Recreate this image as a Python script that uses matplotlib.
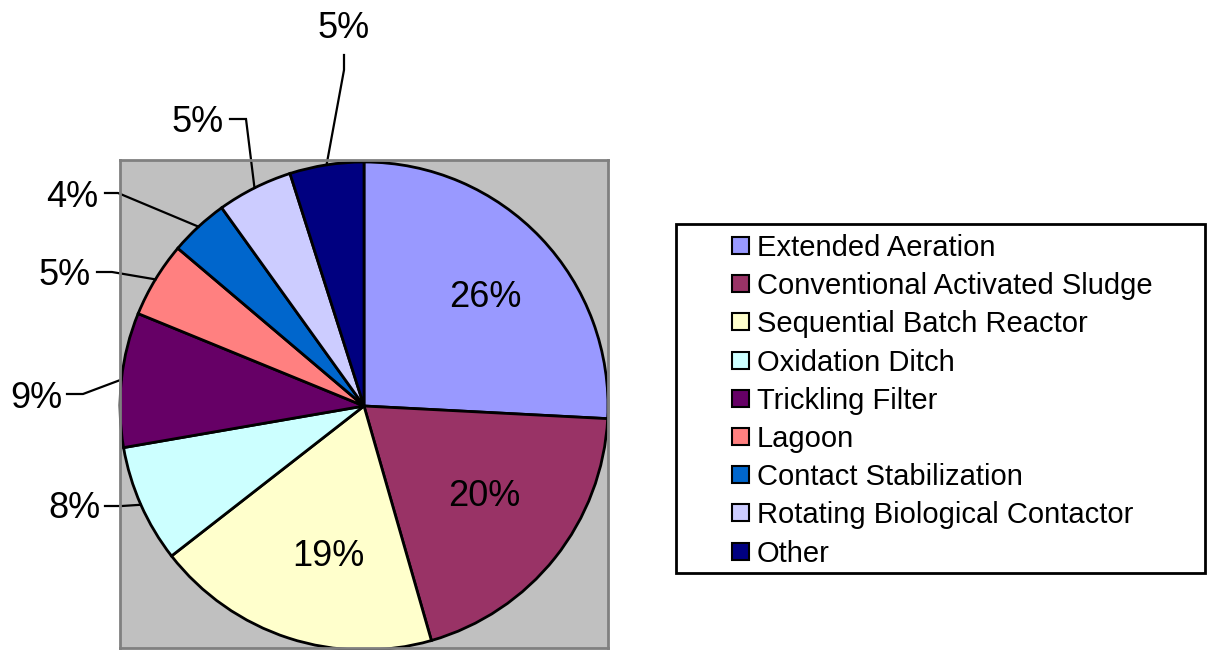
import numpy as np
import matplotlib
matplotlib.use("Agg")
import matplotlib.pyplot as plt
from matplotlib.patches import Rectangle

plt.rcParams['font.family'] = ['Liberation Sans', 'DejaVu Sans']

categories = ["Extended Aeration", "Conventional Activated Sludge", "Sequential Batch Reactor",
              "Oxidation Ditch", "Trickling Filter", "Lagoon", "Contact Stabilization",
              "Rotating Biological Contactor", "Other"]
values = [25.8, 19.7, 18.9, 7.8, 8.9, 5.0, 3.9, 5.0, 4.9]
colors = ["#9999FF", "#993366", "#FFFFCC", "#CCFFFF", "#660066", "#FF8080",
          "#0066CC", "#CCCCFF", "#000080"]
pct_labels = [f"{round(v)}%" for v in values]

W, H = 1212, 650
fig = plt.figure(figsize=(W / 100, H / 100), dpi=100)

# plot area (pixel coords)
left, top, right, bottom = 120, 160, 608, 648
ax = fig.add_axes([left / W, 1 - bottom / H, (right - left) / W, (bottom - top) / H])
cx, cy, R = 364, 406, 244
wedges, _ = ax.pie(values, colors=colors, startangle=90, counterclock=False,
                   radius=R, center=(0, 0), frame=True,
                   wedgeprops=dict(edgecolor="black", linewidth=2.0))
for w in wedges:
    w.set_clip_on(False)
ax.set_aspect("auto")
ax.set_xlim(left - cx, right - cx)
ax.set_ylim(cy - bottom, cy - top)
ax.set_facecolor("#C0C0C0")
ax.set_xticks([]); ax.set_yticks([])
for s in ax.spines.values():
    s.set_color("#808080"); s.set_linewidth(2)

def px(x, y):
    return x - cx, cy - y

fs = 26
em = fs * 100 / 72
def label(x, y, s):
    # (x, y) = pixel centre of the digits
    ax.text(x - cx, cy - (y + 0.358 * em), s, ha="center", va="baseline",
            fontsize=fs, clip_on=False)

# inside labels: index -> digit centre px
inside = {0: (485, 294.5), 1: (484.5, 493.5), 2: (328, 553)}
for i, (x, y) in inside.items():
    label(x, y, pct_labels[i])

# outside labels: index -> (label center px, leader start px, bend px)
outside = {
    8: ((344, 25), (344, 55), (344, 70)),
    7: ((197.5, 119.5), (230, 119), (246, 119)),
    6: ((72.5, 194), (105, 193), (118, 193)),
    5: ((64.5, 272), (97, 272), (112, 272)),
    4: ((36, 395), (67, 394), (83, 394)),
    3: ((74, 505), (105, 506), (122, 506)),
}
for i, (lab, st, bend) in outside.items():
    w = wedges[i]
    mid = np.deg2rad((w.theta1 + w.theta2) / 2)
    ex, ey = R * np.cos(mid), R * np.sin(mid)
    x0, y0 = px(*st); x1, y1 = px(*bend)
    ax.plot([x0, x1, ex], [y0, y1, ey], color="black", lw=1.6, clip_on=False,
            solid_joinstyle="miter")
    label(lab[0], lab[1], pct_labels[i])

# legend (manual, pixel layout)
lx0, ly0, lx1, ly1 = 676, 224, 1205, 573
fig.patches.append(Rectangle((lx0 / W, 1 - ly1 / H), (lx1 - lx0) / W, (ly1 - ly0) / H,
                             transform=fig.transFigure, facecolor="white",
                             edgecolor="black", linewidth=2))
row0, step = 245.5, 38.2
sq = 17
lfs = 21
lem = lfs * 100 / 72
for k, (name, col) in enumerate(zip(categories, colors)):
    yc = row0 + k * step
    fig.patches.append(Rectangle((731.5 / W, 1 - (yc + sq / 2) / H), sq / W, sq / H,
                                 transform=fig.transFigure, facecolor=col,
                                 edgecolor="black", linewidth=1.5))
    fig.text(757 / W, 1 - (yc + 0.358 * lem) / H, name, ha="left", va="baseline",
             fontsize=lfs)

fig.savefig("out.png", dpi=100)
